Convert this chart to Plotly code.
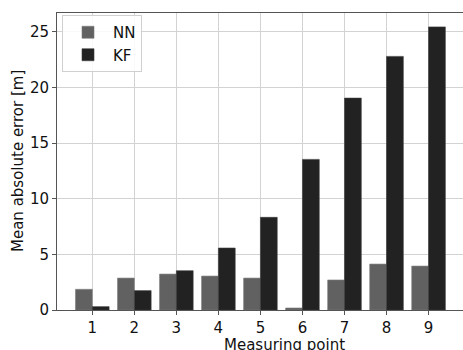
import plotly.graph_objects as go

points = [1, 2, 3, 4, 5, 6, 7, 8, 9]
nn_err = [1.86, 2.87, 3.23, 3.05, 2.87, 0.18, 2.70, 4.13, 3.95]
kf_err = [0.30, 1.74, 3.53, 5.57, 8.33, 13.54, 19.05, 22.80, 25.45]
y_ticks = [0, 5, 10, 15, 20, 25]

W, H = 463, 350
PL, PR, PT, PB = 57, 463, 13, 310          # plot box in page pixels
L, T = PL, PT
R = W - PR
B = H - PB
PW, PH = PR - PL, PB - PT
FONT = "DejaVu Sans"

fig = go.Figure()
fig.add_trace(go.Bar(x=points, y=nn_err, name="NN",
                     marker=dict(color="#616161", line=dict(color="#7a7a7a", width=0.6))))
fig.add_trace(go.Bar(x=points, y=kf_err, name="KF",
                     marker=dict(color="#222222", line=dict(color="#3a3a3a", width=0.6))))

fig.update_layout(
    width=W, height=H,
    margin=dict(l=L, r=R, t=T, b=B, autoexpand=False),
    paper_bgcolor="white", plot_bgcolor="white",
    barmode="group", bargap=0.2, bargroupgap=0.0,
    font=dict(family=FONT, size=15, color="#111111"),
    showlegend=True,
    legend=dict(x=(62 - PL) / PW, y=1 - (15 - PT) / PH, xanchor="left", yanchor="top",
                bgcolor="rgba(255,255,255,0.85)", bordercolor="#d0d0d0", borderwidth=1,
                font=dict(size=15, family=FONT), itemwidth=40,
                tracegroupgap=4),
    xaxis=dict(range=[0.16, 9.82], tickmode="array", tickvals=points,
               ticktext=[str(p) for p in points],
               showgrid=True, gridcolor="#d3d3d3", gridwidth=1,
               showline=True, linecolor="#555555", linewidth=1, mirror=True,
               ticks="outside", ticklen=4, tickcolor="#555555",
               zeroline=False, tickfont=dict(size=15)),
    yaxis=dict(range=[0, 26.7], tickmode="array", tickvals=y_ticks,
               showgrid=True, gridcolor="#d3d3d3", gridwidth=1,
               showline=True, linecolor="#555555", linewidth=1, mirror=False,
               ticks="outside", ticklen=4, tickcolor="#555555",
               zeroline=False, tickfont=dict(size=15)),
    annotations=[
        dict(text="Measuring point", xref="paper", yref="paper",
             x=(284 - PL) / PW, y=-(345 - PB) / PH,
             xanchor="center", yanchor="middle", showarrow=False,
             font=dict(size=15, family=FONT)),
        dict(text="Mean absolute error [m]", xref="paper", yref="paper",
             x=-(PL - 18) / PW, y=1 - (161 - PT) / PH, textangle=-90,
             xanchor="center", yanchor="middle", showarrow=False,
             font=dict(size=15, family=FONT)),
    ],
)

fig.write_html(
    "out.html",
    config={"displayModeBar": False},
    post_script="document.body.style.margin='0';document.body.style.overflow='hidden';",
)
